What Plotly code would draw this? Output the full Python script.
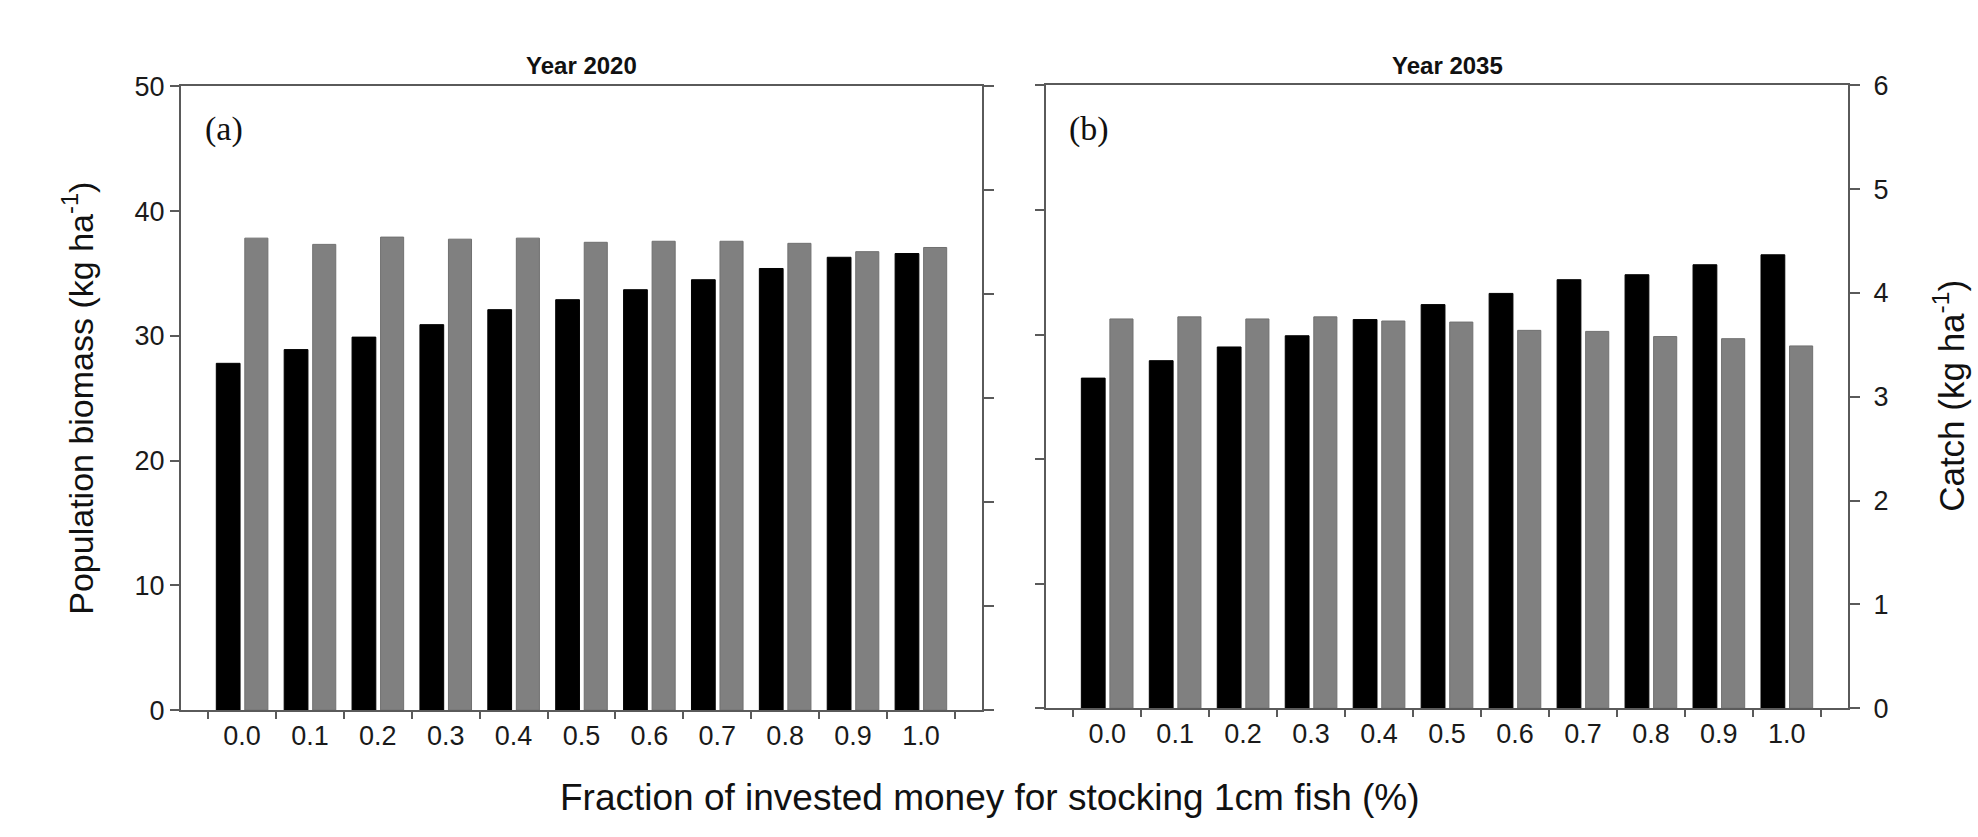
import plotly.graph_objects as go

# Fraction of invested money spent on stocking 1 cm fish
fractions = ["0.0", "0.1", "0.2", "0.3", "0.4", "0.5", "0.6", "0.7", "0.8", "0.9", "1.0"]

# Year 2020
biomass_2020 = [27.8, 28.9, 29.9, 30.9, 32.1, 32.9, 33.7, 34.5, 35.4, 36.3, 36.6]
catch_2020 = [4.54, 4.48, 4.55, 4.53, 4.54, 4.50, 4.51, 4.51, 4.49, 4.41, 4.45]

# Year 2035
biomass_2035 = [26.5, 27.9, 29.0, 29.9, 31.2, 32.4, 33.3, 34.4, 34.8, 35.6, 36.4]
catch_2035 = [3.75, 3.77, 3.75, 3.77, 3.73, 3.72, 3.64, 3.63, 3.58, 3.56, 3.49]

biomass_ticks = [0, 10, 20, 30, 40, 50]
catch_ticks = [0, 1, 2, 3, 4, 5, 6]

W, H = 1978, 837
SANS = "Liberation Sans, Arial, sans-serif"
SERIF = "Liberation Serif, Times New Roman, serif"
LINE = "#5a5a5a"
BLACK = "#000000"
GREY = "#808080"


def px_x(p):
    return p / W


def px_y(p):
    return 1 - p / H


fig = go.Figure()

panels = [
    # (x axis, left y, right y, biomass, catch)
    ("x", "y", "y2", biomass_2020, catch_2020),
    ("x2", "y3", "y4", biomass_2035, catch_2035),
]
for xa, yl, yr, bio, cat in panels:
    fig.add_trace(go.Bar(
        x=fractions, y=bio, xaxis=xa, yaxis=yl,
        offset=-0.38, width=0.35,
        marker=dict(color=BLACK, line=dict(color=BLACK, width=1)),
        showlegend=False,
    ))
    fig.add_trace(go.Bar(
        x=fractions, y=cat, xaxis=xa, yaxis=yr,
        offset=0.04, width=0.34,
        marker=dict(color=GREY, line=dict(color="#707070", width=1)),
        showlegend=False,
    ))

tickfont = dict(family=SANS, size=27, color="#1a1a1a")

xcommon = dict(
    type="category", range=[-0.9, 10.9], tickson="boundaries",
    ticks="outside", ticklen=7, tickwidth=1.5, tickcolor=LINE,
    showline=True, linecolor=LINE, linewidth=2, mirror=True,
    showgrid=False, zeroline=False, tickfont=tickfont, fixedrange=True,
)
ycommon = dict(
    ticks="outside", tickwidth=1.5, tickcolor=LINE,
    showline=True, linecolor=LINE, linewidth=2,
    showgrid=False, zeroline=False, tickfont=tickfont,
)

left_dom_x = [px_x(181), px_x(982)]
right_dom_x = [px_x(1046), px_x(1848)]
left_dom_y = [px_y(721), px_y(74)]
right_dom_y = [px_y(719), px_y(73)]

fig.update_layout(
    width=W, height=H,
    margin=dict(l=0, r=0, t=0, b=0),
    paper_bgcolor="white", plot_bgcolor="white",
    barmode="overlay",
    xaxis=dict(domain=left_dom_x, anchor="y", **xcommon),
    xaxis2=dict(domain=right_dom_x, anchor="y3", **xcommon),
    yaxis=dict(domain=left_dom_y, anchor="x", side="left", range=[0, 50],
               tickvals=biomass_ticks, ticklen=9, **ycommon),
    yaxis2=dict(overlaying="y", anchor="x", side="right", range=[0, 6],
                tickvals=catch_ticks, ticklen=10, showticklabels=False, **ycommon),
    yaxis3=dict(domain=right_dom_y, anchor="x2", side="left", range=[0, 50],
                tickvals=biomass_ticks, ticklen=9, showticklabels=False, **ycommon),
    yaxis4=dict(overlaying="y3", anchor="x2", side="right", range=[0, 6],
                tickvals=catch_ticks, ticklen=10, ticklabelstandoff=8, **ycommon),
)

annotations = [
    dict(text="<b>Year 2020</b>", x=px_x((181 + 982) / 2), y=px_y(52),
         font=dict(family=SANS, size=24, color="#111")),
    dict(text="<b>Year 2035</b>", x=px_x((1046 + 1848) / 2), y=px_y(52),
         font=dict(family=SANS, size=24, color="#111")),
    dict(text="(a)", x=px_x(224), y=px_y(118),
         font=dict(family=SERIF, size=34, color="#111")),
    dict(text="(b)", x=px_x(1089), y=px_y(118),
         font=dict(family=SERIF, size=34, color="#111")),
    dict(text="Population biomass (kg ha<sup>-1</sup>)", x=px_x(78), y=px_y(398),
         textangle=-90, font=dict(family=SANS, size=34, color="#111")),
    dict(text="Catch (kg ha<sup>-1</sup>)", x=px_x(1949), y=px_y(395),
         textangle=-90, font=dict(family=SANS, size=35, color="#111")),
    dict(text="Fraction of invested money for stocking 1cm fish (%)",
         x=px_x(990), y=px_y(812),
         font=dict(family=SANS, size=37, color="#111")),
]
for a in annotations:
    a.update(xref="paper", yref="paper", showarrow=False,
             xanchor="center", yanchor="middle")
fig.update_layout(annotations=annotations)

fig.write_html("out.html")
